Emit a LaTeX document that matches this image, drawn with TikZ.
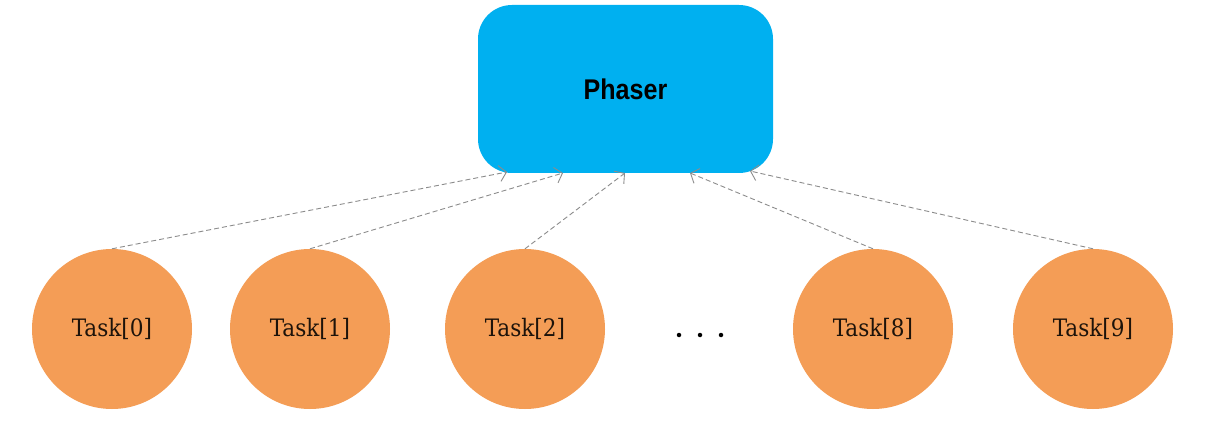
\documentclass[tikz,border=0pt]{standalone}
\usepackage{fontspec}
\setmainfont{DejaVu Serif Condensed}
\newfontfamily\phfont[FakeStretch=0.88]{Liberation Sans}
\usetikzlibrary{arrows.meta}
\definecolor{phblue}{HTML}{00B0F0}
\definecolor{taskorange}{HTML}{F49D56}
\definecolor{linkgray}{HTML}{8C8C8C}
\tikzset{
  taskcircle/.style={circle, fill=taskorange, draw=none, minimum size=160pt, inner sep=0pt, font=\fontsize{24}{28}\selectfont, text=black!85!brown},
  phaserbox/.style={rectangle, rounded corners=34pt, fill=phblue, draw=none, minimum width=295pt, minimum height=168pt, inner sep=0pt, font=\phfont\bfseries\fontsize{28.5}{32}\selectfont},
  link/.style={draw=linkgray, line width=0.9pt, dash pattern=on 5pt off 3pt, -{Straight Barb[length=7pt, width=16pt, line width=0.9pt]}},
  dotmark/.style={circle, fill=black, inner sep=0pt, minimum size=4.5pt}
}
\begin{document}
\begin{tikzpicture}[x=1pt, y=-1pt]
\useasboundingbox (0,0) rectangle (1216,422);
\fill[white] (0,0) rectangle (1216,422);
\node[phaserbox] (phaser) at (625.5,89) {Phaser};
\node[taskcircle] (t0) at (112,329) {Task[0]};
\node[taskcircle] (t1) at (310,329) {Task[1]};
\node[taskcircle] (t2) at (525,329) {Task[2]};
\node[taskcircle] (t8) at (873,329) {Task[8]};
\node[taskcircle] (t9) at (1093,329) {Task[9]};
\node[dotmark] (d1) at (679,335) {};
\node[dotmark] (d2) at (700,335) {};
\node[dotmark] (d3) at (721,335) {};
\coordinate (p0) at (507,172);
\coordinate (p1) at (563,173);
\coordinate (p2) at (625,173);
\coordinate (p8) at (690,173);
\coordinate (p9) at (750,171);
\draw[link] (t0.north) -- (p0);
\draw[link] (t1.north) -- (p1);
\draw[link] (t2.north) -- (p2);
\draw[link] (t8.north) -- (p8);
\draw[link] (t9.north) -- (p9);
\end{tikzpicture}
\end{document}
